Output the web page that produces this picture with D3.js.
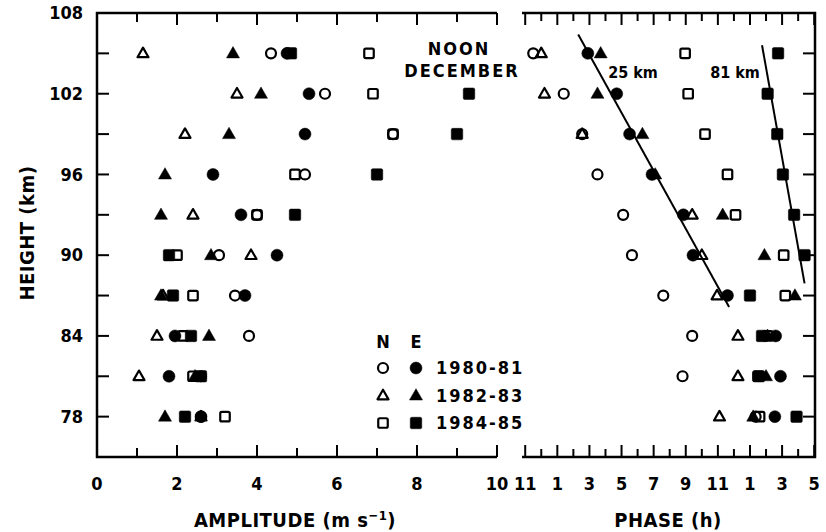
<!DOCTYPE html>
<html><head><meta charset="utf-8">
<script src="https://cdn.jsdelivr.net/npm/d3@7"></script>
<style>
body{margin:0;background:#fff;}
svg text{font-family:"DejaVu Sans Condensed","DejaVu Sans",sans-serif;font-weight:bold;fill:#000;}
</style></head>
<body><svg id="c" width="826" height="532"></svg>
<script>
// ---- data ----
const heights = [105, 102, 99, 96, 93, 90, 87, 84, 81, 78];
// amplitude (m/s), N = open, E = filled
const ampN8081 = [4.35, 5.7, 7.4, 5.2, 4.0, 3.05, 3.45, 3.8, 2.6, 2.6];
const ampE8081 = [4.75, 5.3, 5.2, 2.9, 3.6, 4.5, 3.7, 1.95, 1.8, 2.6];
const ampN8283 = [1.15, 3.5, 2.2, null, 2.4, 3.85, 1.65, 1.5, 1.05, 2.6];
const ampE8283 = [3.4, 4.1, 3.3, 1.7, 1.6, 2.85, 1.6, 2.8, 2.45, 1.7];
const ampN8485 = [6.8, 6.9, 7.4, 4.95, 4.0, 2.0, 2.4, 2.15, 2.4, 3.2];
const ampE8485 = [4.85, 9.3, 9.0, 7.0, 4.95, 1.8, 1.9, 2.35, 2.6, 2.2];
// phase (h, unwrapped: -1 = 11 h, 13 = 1 h ...)
const phN8081 = [-0.5, 1.4, 2.55, 3.5, 5.1, 5.65, 7.6, 9.4, 8.8, 13.35];
const phE8081 = [2.9, 4.7, 5.5, 6.9, 8.85, 9.45, 11.6, 14.6, 14.9, 14.55];
const phN8283 = [0.0, 0.2, 2.55, null, 9.4, 10.0, 10.95, 12.25, 12.25, 11.1];
const phE8283 = [3.7, 3.5, 6.3, 7.1, 11.3, 13.9, 15.8, 14.1, 14.0, 13.2];
const phN8485 = [8.96, 9.15, 10.2, 11.6, 12.1, 15.1, 15.2, 14.1, 13.5, 13.6];
const phE8485 = [14.75, 14.1, 14.7, 15.05, 15.75, 16.4, 13.0, 13.75, 13.55, 15.9];
// fitted lines (phase h, height km)
const line25 = [[2.3, 106.4], [11.7, 86.15]];
const line81 = [[13.75, 105.6], [16.4, 87.9]];
const yTickLabels = [108, 102, 96, 90, 84, 78];
const ampTickLabels = [0, 2, 4, 6, 8, 10];
const years = ["1980-81", "1982-83", "1984-85"];

// ---- chart ----
const svg = d3.select("#c");
const y = d3.scaleLinear().domain([75, 108]).range([457, 13]);
const xa = d3.scaleLinear().domain([0, 10]).range([97, 497]);
const xp = d3.scaleLinear().domain([-1.2, 17.05]).range([522, 815]);

const shapes = ["circle", "triangle", "square"];
function marker(g, shape, filled, cx, cy) {
  const sw = 2.2;
  const fill = filled ? "#000" : "none";
  if (shape === "circle") {
    g.append("circle").attr("cx", cx).attr("cy", cy).attr("r", filled ? 6 : 5)
      .attr("fill", fill).attr("stroke", "#000").attr("stroke-width", filled ? 0.5 : sw);
  } else if (shape === "triangle") {
    const s = filled ? 13 : 11, h = s * 0.87;
    g.append("path").attr("d", `M${cx},${cy - h * 0.6}L${cx + s / 2},${cy + h * 0.4}L${cx - s / 2},${cy + h * 0.4}Z`)
      .attr("fill", fill).attr("stroke", "#000").attr("stroke-width", filled ? 0.5 : sw).attr("stroke-linejoin", "round");
  } else {
    const s = filled ? 11.5 : 9.5;
    g.append("rect").attr("x", cx - s / 2).attr("y", cy - s / 2).attr("width", s).attr("height", s).attr("rx", 1.5)
      .attr("fill", fill).attr("stroke", "#000").attr("stroke-width", filled ? 0.5 : sw);
  }
}

const ampOpen = [ampN8081, ampN8283, ampN8485];
const ampFill = [ampE8081, ampE8283, ampE8485];
const phOpen = [phN8081, phN8283, phN8485];
const phFill = [phE8081, phE8283, phE8485];

const gm = svg.append("g");
function plotSet(arrs, filled, xs) {
  arrs.forEach((arr, i) => {
    arr.forEach((v, j) => { if (v !== null) marker(gm, shapes[i], filled, xs(v), y(heights[j])); });
  });
}
plotSet(ampOpen, false, xa);
plotSet(phOpen, false, xp);
plotSet(ampFill, true, xa);
plotSet(phFill, true, xp);

// lines
const lineGen = d3.line().x(d => xp(d[0])).y(d => y(d[1]));
[line25, line81].forEach(l => svg.append("path").attr("d", lineGen(l)).attr("fill", "none").attr("stroke", "#000").attr("stroke-width", 2));

// frames
const ax = svg.append("g").attr("stroke", "#000").attr("stroke-width", 2.5).attr("fill", "none");
ax.append("path").attr("d", `M${xa(10)},${y(108)}H${xa(0)}V${y(75)}H${xa(10)}`);
ax.append("path").attr("d", `M${xp(-1.2)},${y(108)}H${xp(17.05)}V${y(75)}H${xp(-1.2)}`);

// ticks
const tk = svg.append("g").attr("stroke", "#000").attr("stroke-width", 2);
d3.range(0, 11).forEach(v => {
  const L = v % 2 === 0 ? 12 : 9;
  tk.append("line").attr("x1", xa(v)).attr("x2", xa(v)).attr("y1", y(108)).attr("y2", y(108) + L);
  tk.append("line").attr("x1", xa(v)).attr("x2", xa(v)).attr("y1", y(75)).attr("y2", y(75) - L);
});
d3.range(-1, 18).forEach(v => {
  const L = Math.abs(v) % 2 === 1 ? 12 : 8;
  tk.append("line").attr("x1", xp(v)).attr("x2", xp(v)).attr("y1", y(108)).attr("y2", y(108) + L);
  tk.append("line").attr("x1", xp(v)).attr("x2", xp(v)).attr("y1", y(75)).attr("y2", y(75) - L);
});
d3.range(78, 108, 3).forEach(v => {
  tk.append("line").attr("x1", xa(0)).attr("x2", xa(0) + 12).attr("y1", y(v)).attr("y2", y(v));
  tk.append("line").attr("x1", xp(17.05)).attr("x2", xp(17.05) - 12).attr("y1", y(v)).attr("y2", y(v));
});

// tick labels
const tl = svg.append("g").attr("font-size", 18);
yTickLabels.forEach(v => tl.append("text").attr("x", 83).attr("y", y(v)).attr("dy", "0.35em").attr("text-anchor", "end").text(v));
ampTickLabels.forEach(v => tl.append("text").attr("x", xa(v)).attr("y", 484).attr("dy", "0.35em").attr("text-anchor", "middle").text(v));
d3.range(-1, 18, 2).forEach(v => tl.append("text").attr("x", xp(v)).attr("y", 484).attr("dy", "0.35em").attr("text-anchor", "middle").text(((v % 12) + 12) % 12));

// axis titles
svg.append("text").attr("transform", "translate(27,233) rotate(-90)").attr("text-anchor", "middle").attr("dy", "0.35em").attr("font-size", 20).attr("letter-spacing", 0.5).text("HEIGHT (km)");
const at = svg.append("text").attr("x", 295).attr("y", 527).attr("text-anchor", "middle").attr("font-size", 20).attr("letter-spacing", 0.5);
at.append("tspan").text("AMPLITUDE (m s");
at.append("tspan").attr("dy", -7).attr("font-size", 13).text("−1");
at.append("tspan").attr("dy", 7).text(")");
svg.append("text").attr("x", 668).attr("y", 527).attr("text-anchor", "middle").attr("font-size", 20).attr("letter-spacing", 0.5).text("PHASE (h)");

// annotations
svg.append("text").attr("x", 459).attr("y", 55).attr("text-anchor", "middle").attr("font-size", 18).attr("letter-spacing", 2).text("NOON");
svg.append("text").attr("x", 462).attr("y", 77).attr("text-anchor", "middle").attr("font-size", 18).attr("letter-spacing", 2).text("DECEMBER");
svg.append("text").attr("x", 633).attr("y", 78).attr("text-anchor", "middle").attr("font-size", 16).text("25 km");
svg.append("text").attr("x", 735).attr("y", 78).attr("text-anchor", "middle").attr("font-size", 16).text("81 km");

// legend
const lg = svg.append("g");
lg.append("text").attr("x", 383).attr("y", 348).attr("text-anchor", "middle").attr("font-size", 18).text("N");
lg.append("text").attr("x", 416).attr("y", 348).attr("text-anchor", "middle").attr("font-size", 18).text("E");
years.forEach((yr, i) => {
  const yy = 368 + i * 27.5;
  marker(lg, shapes[i], false, 383, yy);
  marker(lg, shapes[i], true, 416, yy);
  lg.append("text").attr("x", 436).attr("y", yy).attr("dy", "0.36em").attr("font-size", 18).attr("letter-spacing", 2).text(yr);
});
</script></body></html>
